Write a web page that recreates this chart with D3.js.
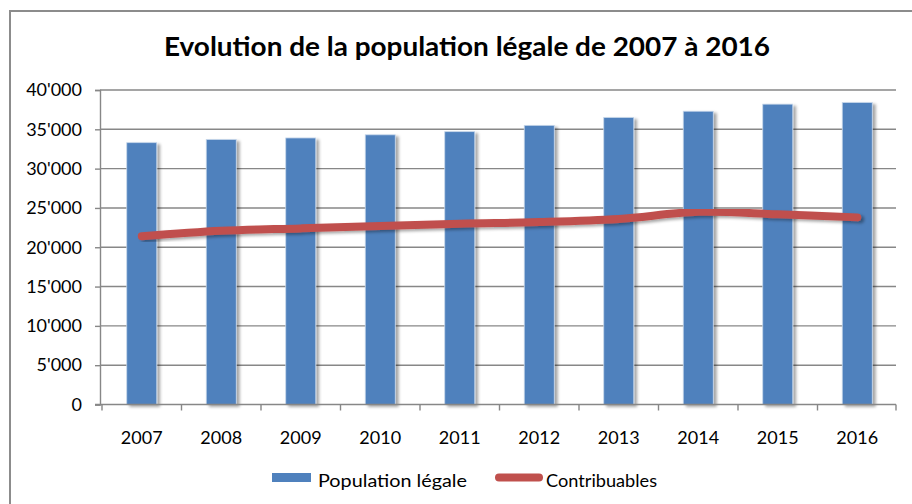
<!DOCTYPE html>
<html>
<head>
<meta charset="utf-8">
<script src="https://cdn.jsdelivr.net/npm/d3@7"></script>
<style>
  html, body { margin: 0; padding: 0; background: #fff; }
  svg { display: block; }
  text { font-family: Lato, "Open Sans", sans-serif; fill: #000; }
</style>
</head>
<body>
<svg id="chart" width="912" height="504"></svg>
<script>
const title = "Evolution de la population légale de 2007 à 2016";
const years = ["2007","2008","2009","2010","2011","2012","2013","2014","2015","2016"];
const populationLegale = [33300, 33700, 33900, 34300, 34700, 35500, 36500, 37300, 38200, 38400];
const contribuables = [21400, 22100, 22400, 22700, 23000, 23200, 23600, 24500, 24200, 23800];
const yTicks = [0, 5000, 10000, 15000, 20000, 25000, 30000, 35000, 40000];
const seriesNames = ["Population légale", "Contribuables"];

(function () {
const svg = d3.select("#chart");
const defs = svg.append("defs");
const f = defs.append("filter").attr("id","shadow").attr("x","-30%").attr("y","-10%").attr("width","170%").attr("height","130%");
f.append("feDropShadow").attr("dx",3).attr("dy",2).attr("stdDeviation",1.6)
  .attr("flood-color","#000").attr("flood-opacity",0.35);

// frame
svg.append("rect").attr("x",10).attr("y",11).attr("width",940).attr("height",540)
  .attr("fill","none").attr("stroke","#8c8c8c").attr("stroke-width",2);

// title
svg.append("text").attr("x",164).attr("y",56)
  .attr("textLength",606).attr("lengthAdjust","spacingAndGlyphs")
  .style("font-size","27px").style("font-weight","bold").text(title);

const mLeft = 100, mRight = 896, mTop = 90, mBottom = 404.5;
const x = d3.scaleBand().domain(years).range([102, 897]).paddingInner(0).paddingOuter(0);
const y = d3.scaleLinear().domain([0, 40000]).range([mBottom, mTop]);
const fmt = v => v === 0 ? "0" : d3.format(",")(v).replace(/,/g, "'");

// gridlines
svg.append("g").selectAll("line").data(yTicks.filter(d => d > 0)).join("line")
  .attr("x1", mLeft).attr("x2", mRight)
  .attr("y1", d => y(d)).attr("y2", d => y(d))
  .attr("stroke","#878787").attr("stroke-width",1.4);

// y axis
const yAxis = svg.append("g").attr("transform",`translate(${mLeft},0)`)
  .call(d3.axisLeft(y).tickValues(yTicks).tickFormat(fmt).tickSize(5).tickPadding(13));
yAxis.select(".domain").attr("stroke","#878787").attr("stroke-width",1.4);
yAxis.selectAll(".tick line").attr("stroke","#878787").attr("stroke-width",1.4);
yAxis.selectAll("text").style("font-size","18px").style("font-family","Lato, sans-serif").attr("fill","#000");

// bars
const barW = 30;
svg.append("g").selectAll("rect").data(years).join("rect")
  .attr("x", (d) => x(d) + x.bandwidth()/2 - barW/2)
  .attr("width", barW)
  .attr("y", (d,i) => y(populationLegale[i]))
  .attr("height", (d,i) => y(0) - y(populationLegale[i]))
  .attr("fill","#4F81BD").attr("stroke","#c6d6ea").attr("stroke-width",0.8)
  .attr("filter","url(#shadow)");

// x axis
const xAxisG = svg.append("g").attr("transform",`translate(0,${mBottom})`);
xAxisG.append("line").attr("x1",95).attr("x2",mRight).attr("y1",0).attr("y2",0)
  .attr("stroke","#878787").attr("stroke-width",1.4);
const boundaries = years.map(d => x(d)).concat([x(years[years.length-1]) + x.bandwidth()]);
xAxisG.selectAll("line.tk").data(boundaries).join("line").attr("class","tk")
  .attr("x1", d => Math.min(d, mRight)).attr("x2", d => Math.min(d, mRight))
  .attr("y1",0).attr("y2",6).attr("stroke","#878787").attr("stroke-width",1.4);
xAxisG.selectAll("text").data(years).join("text")
  .attr("x", d => x(d) + x.bandwidth()/2).attr("y", 39)
  .attr("text-anchor","middle").style("font-size","18px").text(d => d);

// line
const line = d3.line()
  .x((d,i) => x(years[i]) + x.bandwidth()/2)
  .y(d => y(d))
  .curve(d3.curveCatmullRom.alpha(0.5));
svg.append("path").datum(contribuables)
  .attr("d", line).attr("fill","none").attr("stroke","#C0504D")
  .attr("stroke-width",8).attr("stroke-linecap","round").attr("stroke-linejoin","round")
  .attr("filter","url(#shadow)");

// legend
const lg = svg.append("g");
lg.append("rect").attr("x",272).attr("y",473).attr("width",39).attr("height",9).attr("fill","#4F81BD");
lg.append("text").attr("x",318).attr("y",487).style("font-size","18px")
  .attr("textLength",149).attr("lengthAdjust","spacingAndGlyphs").text(seriesNames[0]);
lg.append("line").attr("x1",499).attr("x2",539).attr("y1",477.5).attr("y2",477.5)
  .attr("stroke","#C0504D").attr("stroke-width",8).attr("stroke-linecap","round");
lg.append("text").attr("x",546).attr("y",487).style("font-size","18px")
  .attr("textLength",111).attr("lengthAdjust","spacingAndGlyphs").text(seriesNames[1]);
})();
</script>
</body>
</html>
